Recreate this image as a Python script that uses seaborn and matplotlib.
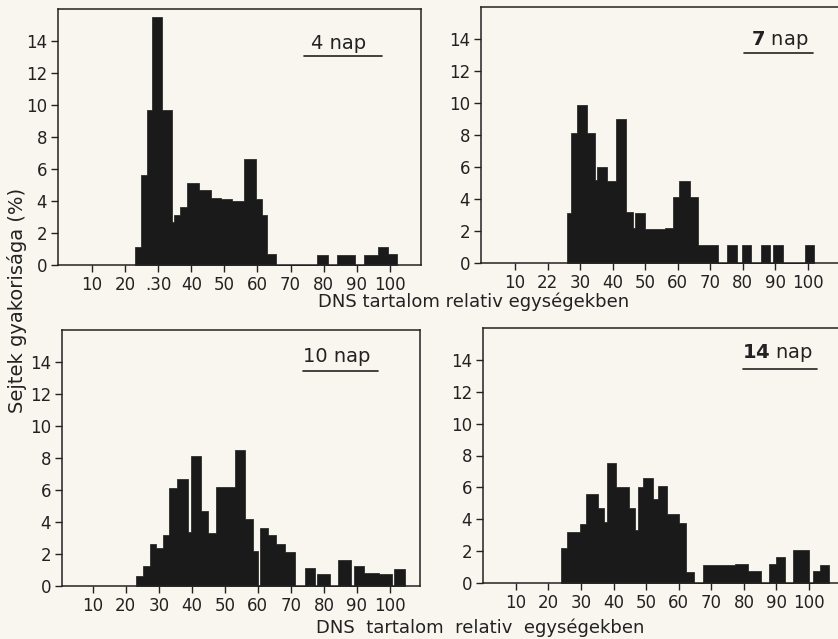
import numpy as np
import matplotlib.pyplot as plt
import seaborn as sns

# DNS content histograms
# bin edges (relative units) and cell frequency (%) per bin, 0 = empty gap

edges_4 = [23.0, 24.8, 26.5, 28.2, 31.0, 34.2, 34.8, 36.6, 38.6, 42.3, 46.1, 48.9, 52.2,
           56.0, 59.4, 61.4, 63.0, 65.5, 78.0, 81.4, 84.0, 89.5, 92.2, 96.4, 99.5, 102.2]
freq_4 = [1.1, 5.6, 9.7, 15.5, 9.7, 2.7, 3.1, 3.6, 5.1, 4.7, 4.2, 4.1, 4.0,
          6.6, 4.1, 3.1, 0.7, 0, 0.6, 0, 0.6, 0, 0.6, 1.1, 0.7]

edges_7 = [26.0, 27.3, 29.0, 32.1, 34.5, 35.2, 38.3, 41.1, 44.3, 46.2, 47.0, 50.1, 56.3, 58.5,
           60.6, 63.7, 66.3, 72.3, 75.3, 78.2, 79.7, 82.5, 85.8, 88.5, 89.5, 92.3, 99.2, 102.1]
freq_7 = [3.1, 8.1, 9.9, 8.1, 5.2, 6.0, 5.1, 9.0, 3.2, 2.2, 3.1, 2.1, 2.2,
          4.1, 5.1, 4.1, 1.1, 0, 1.1, 0, 1.1, 0, 1.1, 0, 1.1, 0, 1.1]

edges_10 = [23.2, 25.2, 27.2, 29.2, 31.2, 33.2, 35.5, 39.0, 39.7, 42.8, 45.0, 47.3, 53.1, 56.2,
            58.4, 60.0, 60.7, 63.2, 65.6, 68.3, 71.3, 74.3, 77.3, 78.0, 81.7, 84.4, 88.2, 89.0,
            92.2, 96.6, 100.6, 101.2, 104.6]
freq_10 = [0.6, 1.25, 2.6, 2.35, 3.2, 6.1, 6.7, 3.4, 8.1, 4.7, 3.3, 6.2, 8.5, 4.2,
           2.2, 0, 3.6, 3.2, 2.6, 2.1, 0, 1.15, 0, 0.75, 0, 1.65, 0, 1.25,
           0.8, 0.75, 0, 1.05]

edges_14 = [24.0, 25.8, 29.7, 31.5, 35.1, 37.1, 37.9, 40.9, 44.8, 46.5, 47.6, 48.9, 52.2, 53.7,
            56.5, 60.2, 62.2, 64.7, 67.5, 77.3, 81.3, 85.2, 87.7, 89.7, 92.6, 95.2, 100.0,
            101.3, 103.4, 106.2]
freq_14 = [2.2, 3.2, 3.7, 5.6, 4.7, 3.8, 7.5, 6.0, 4.7, 3.3, 6.0, 6.6, 5.3,
           6.1, 4.3, 3.75, 0.7, 0, 1.1, 1.2, 0.75, 0, 1.2, 1.65, 0, 2.1, 0,
           0.75, 1.15]

xticks = [10, 20, 30, 40, 50, 60, 70, 80, 90, 100]
labels_4 = ['10', '20', '.30', '40', '50', '60', '70', '80', '90', '100']
labels_7 = ['10', '22', '30', '40', '50', '60', '70', '80', '90', '100']
labels_std = [str(t) for t in xticks]
yticks = [0, 2, 4, 6, 8, 10, 12, 14]

sns.set_style('ticks')
plt.rcParams['font.family'] = ['DejaVu Sans']

paper = '#f8f6ee'
ink = '#1a1a1a'
W, H = 838, 639


def box(l, t, r, b):
    # pixel box -> figure fraction
    return [l / W, 1 - b / H, (r - l) / W, (b - t) / H]


panels = [
    (edges_4, freq_4, labels_4, r'4 nap', box(58, 9, 421, 265), (-0.27, 109.4),
     (0.774, 0.867), (0.678, 0.893, 0.816)),
    (edges_7, freq_7, labels_7, r'$\mathbf{7}$ nap', box(481, 7, 842, 263), (-0.46, 110.6),
     (0.828, 0.871), (0.729, 0.920, 0.820)),
    (edges_10, freq_10, labels_std, r'10 nap', box(62, 330, 420, 586), (0.7, 109.1),
     (0.768, 0.895), (0.673, 0.883, 0.840)),
    (edges_14, freq_14, labels_std, r'$\mathbf{14}$ nap', box(483, 328, 842, 583), (-0.04, 110.1),
     (0.819, 0.902), (0.724, 0.930, 0.839)),
]

fig = plt.figure(figsize=(8.38, 6.39), dpi=100, facecolor=paper)

for edges, freq, labels, title, rect, xlim, tpos, uline in panels:
    ax = fig.add_axes(rect, facecolor=paper)
    mids = (np.array(edges[:-1]) + np.array(edges[1:])) / 2
    # step element = one filled outline, no seams between neighbouring bins
    sns.histplot(x=mids, weights=freq, bins=edges, element='step', fill=True,
                 color=ink, alpha=1, edgecolor=ink, linewidth=0.5, ax=ax)
    ax.set_xlim(*xlim)
    ax.set_ylim(0, 16)
    ax.set_xticks(xticks, labels)
    ax.set_yticks(yticks)
    ax.set_xlabel('')
    ax.set_ylabel('')
    ax.tick_params(direction='out', length=5, width=1, labelsize=12, pad=3,
                   colors='#222222')
    for s in ax.spines.values():
        s.set_linewidth(1.1)
        s.set_color('#222222')
    ax.text(tpos[0], tpos[1], title, transform=ax.transAxes, ha='center', va='center',
            fontsize=14, color='#222222')
    ax.plot([uline[0], uline[1]], [uline[2], uline[2]], transform=ax.transAxes,
            color='#222222', lw=1.2)

fig.text(474 / W, 1 - 302 / H, 'DNS tartalom relativ egységekben', ha='center', va='center',
         fontsize=13, color='#222222')
fig.text(480 / W, 1 - 628 / H, 'DNS  tartalom  relativ  egységekben', ha='center', va='center',
         fontsize=13, color='#222222')
fig.text(17 / W, 1 - 300 / H, 'Sejtek gyakorisága (%)', ha='center', va='center',
         rotation=90, fontsize=14, color='#222222')

fig.savefig('out.png', dpi=100, facecolor=paper)
